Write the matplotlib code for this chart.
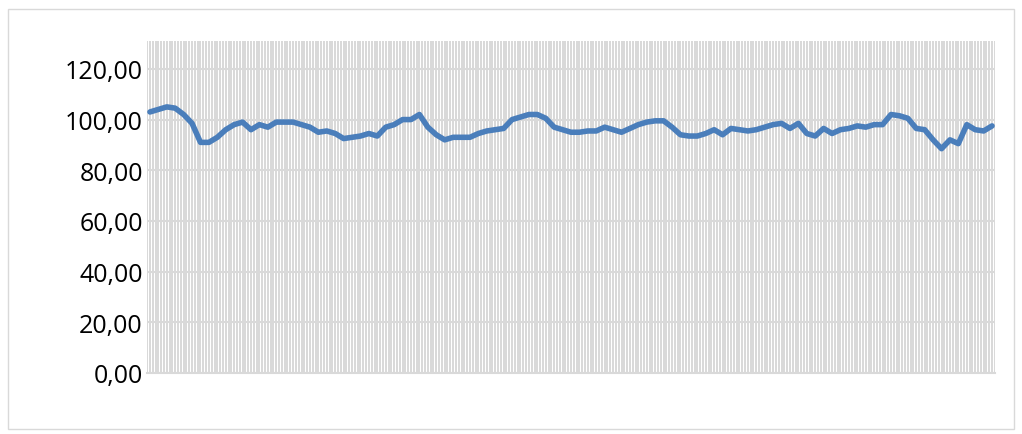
import numpy as np
import matplotlib
matplotlib.use("Agg")
import matplotlib.pyplot as plt
from matplotlib.ticker import MultipleLocator, FuncFormatter
from matplotlib.patches import Rectangle

# =====================================================
# DADOS
# =====================================================

values = [
    103, 104, 105, 104.5, 102, 98.5, 91, 91, 93, 96,
    98, 99, 96, 98, 97, 99, 99, 99, 98, 97,
    95, 95.5, 94.5, 92.5, 93, 93.5, 94.5, 93.5, 97, 98,
    100, 100, 102, 97, 94, 92, 93, 93, 93, 94.5,
    95.5, 96, 96.5, 100, 101, 102, 102, 100.5, 97, 96,
    95, 95, 95.5, 95.5, 97, 96, 95, 96.5, 98, 99,
    99.5, 99.5, 97, 94, 93.5, 93.5, 94.5, 96, 94, 96.5,
    96, 95.5, 96, 97, 98, 98.5, 96.5, 98.5, 94.5, 93.5,
    96.5, 94.5, 96, 96.5, 97.5, 97, 98, 98, 102, 101.5,
    100.5, 96.5, 96, 92, 88.5, 92, 90.5, 98, 96, 95.5,
    97.5,
]
y_ticks = [0, 20, 40, 60, 80, 100, 120]

x = np.arange(len(values))

# =====================================================
# FIGURA
# =====================================================

fig = plt.figure(figsize=(10.22, 4.35), dpi=100)
ax = fig.add_axes([147 / 1022, 61 / 435, 848 / 1022, 332 / 435])

# moldura do gráfico
fig.patches.append(Rectangle((8 / 1022, 5 / 435), 1006 / 1022, 420 / 435,
                             transform=fig.transFigure, fill=False,
                             edgecolor="#d9d9d9", linewidth=1.0))

ax.set_xlim(-0.35, len(values) - 1 + 0.35)
ax.set_ylim(0, 131)

# grade vertical densa
ax.xaxis.set_minor_locator(MultipleLocator(1 / 3))
ax.grid(True, which="minor", axis="x", color="#d2d2d2", linewidth=1.2)
ax.set_xticks([])

# grade horizontal
ax.set_yticks(y_ticks)
ax.grid(True, which="major", axis="y", color="#d9d9d9", linewidth=1.5)
ax.set_axisbelow(True)

ax.yaxis.set_major_formatter(FuncFormatter(lambda v, p: f"{v:.2f}".replace(".", ",")))
ax.tick_params(axis="y", length=0, pad=3, labelsize=18, labelcolor="black")
ax.tick_params(axis="x", which="both", length=0)
for lab in ax.get_yticklabels():
    lab.set_family("Open Sans")

for s in ["top", "right", "left"]:
    ax.spines[s].set_visible(False)
ax.spines["bottom"].set_color("#d9d9d9")
ax.spines["bottom"].set_linewidth(1.5)

ax.plot(x, values, color="#4a7ebb", linewidth=4.0,
        solid_joinstyle="round", solid_capstyle="round", zorder=3)

fig.savefig("out.png", dpi=100)
